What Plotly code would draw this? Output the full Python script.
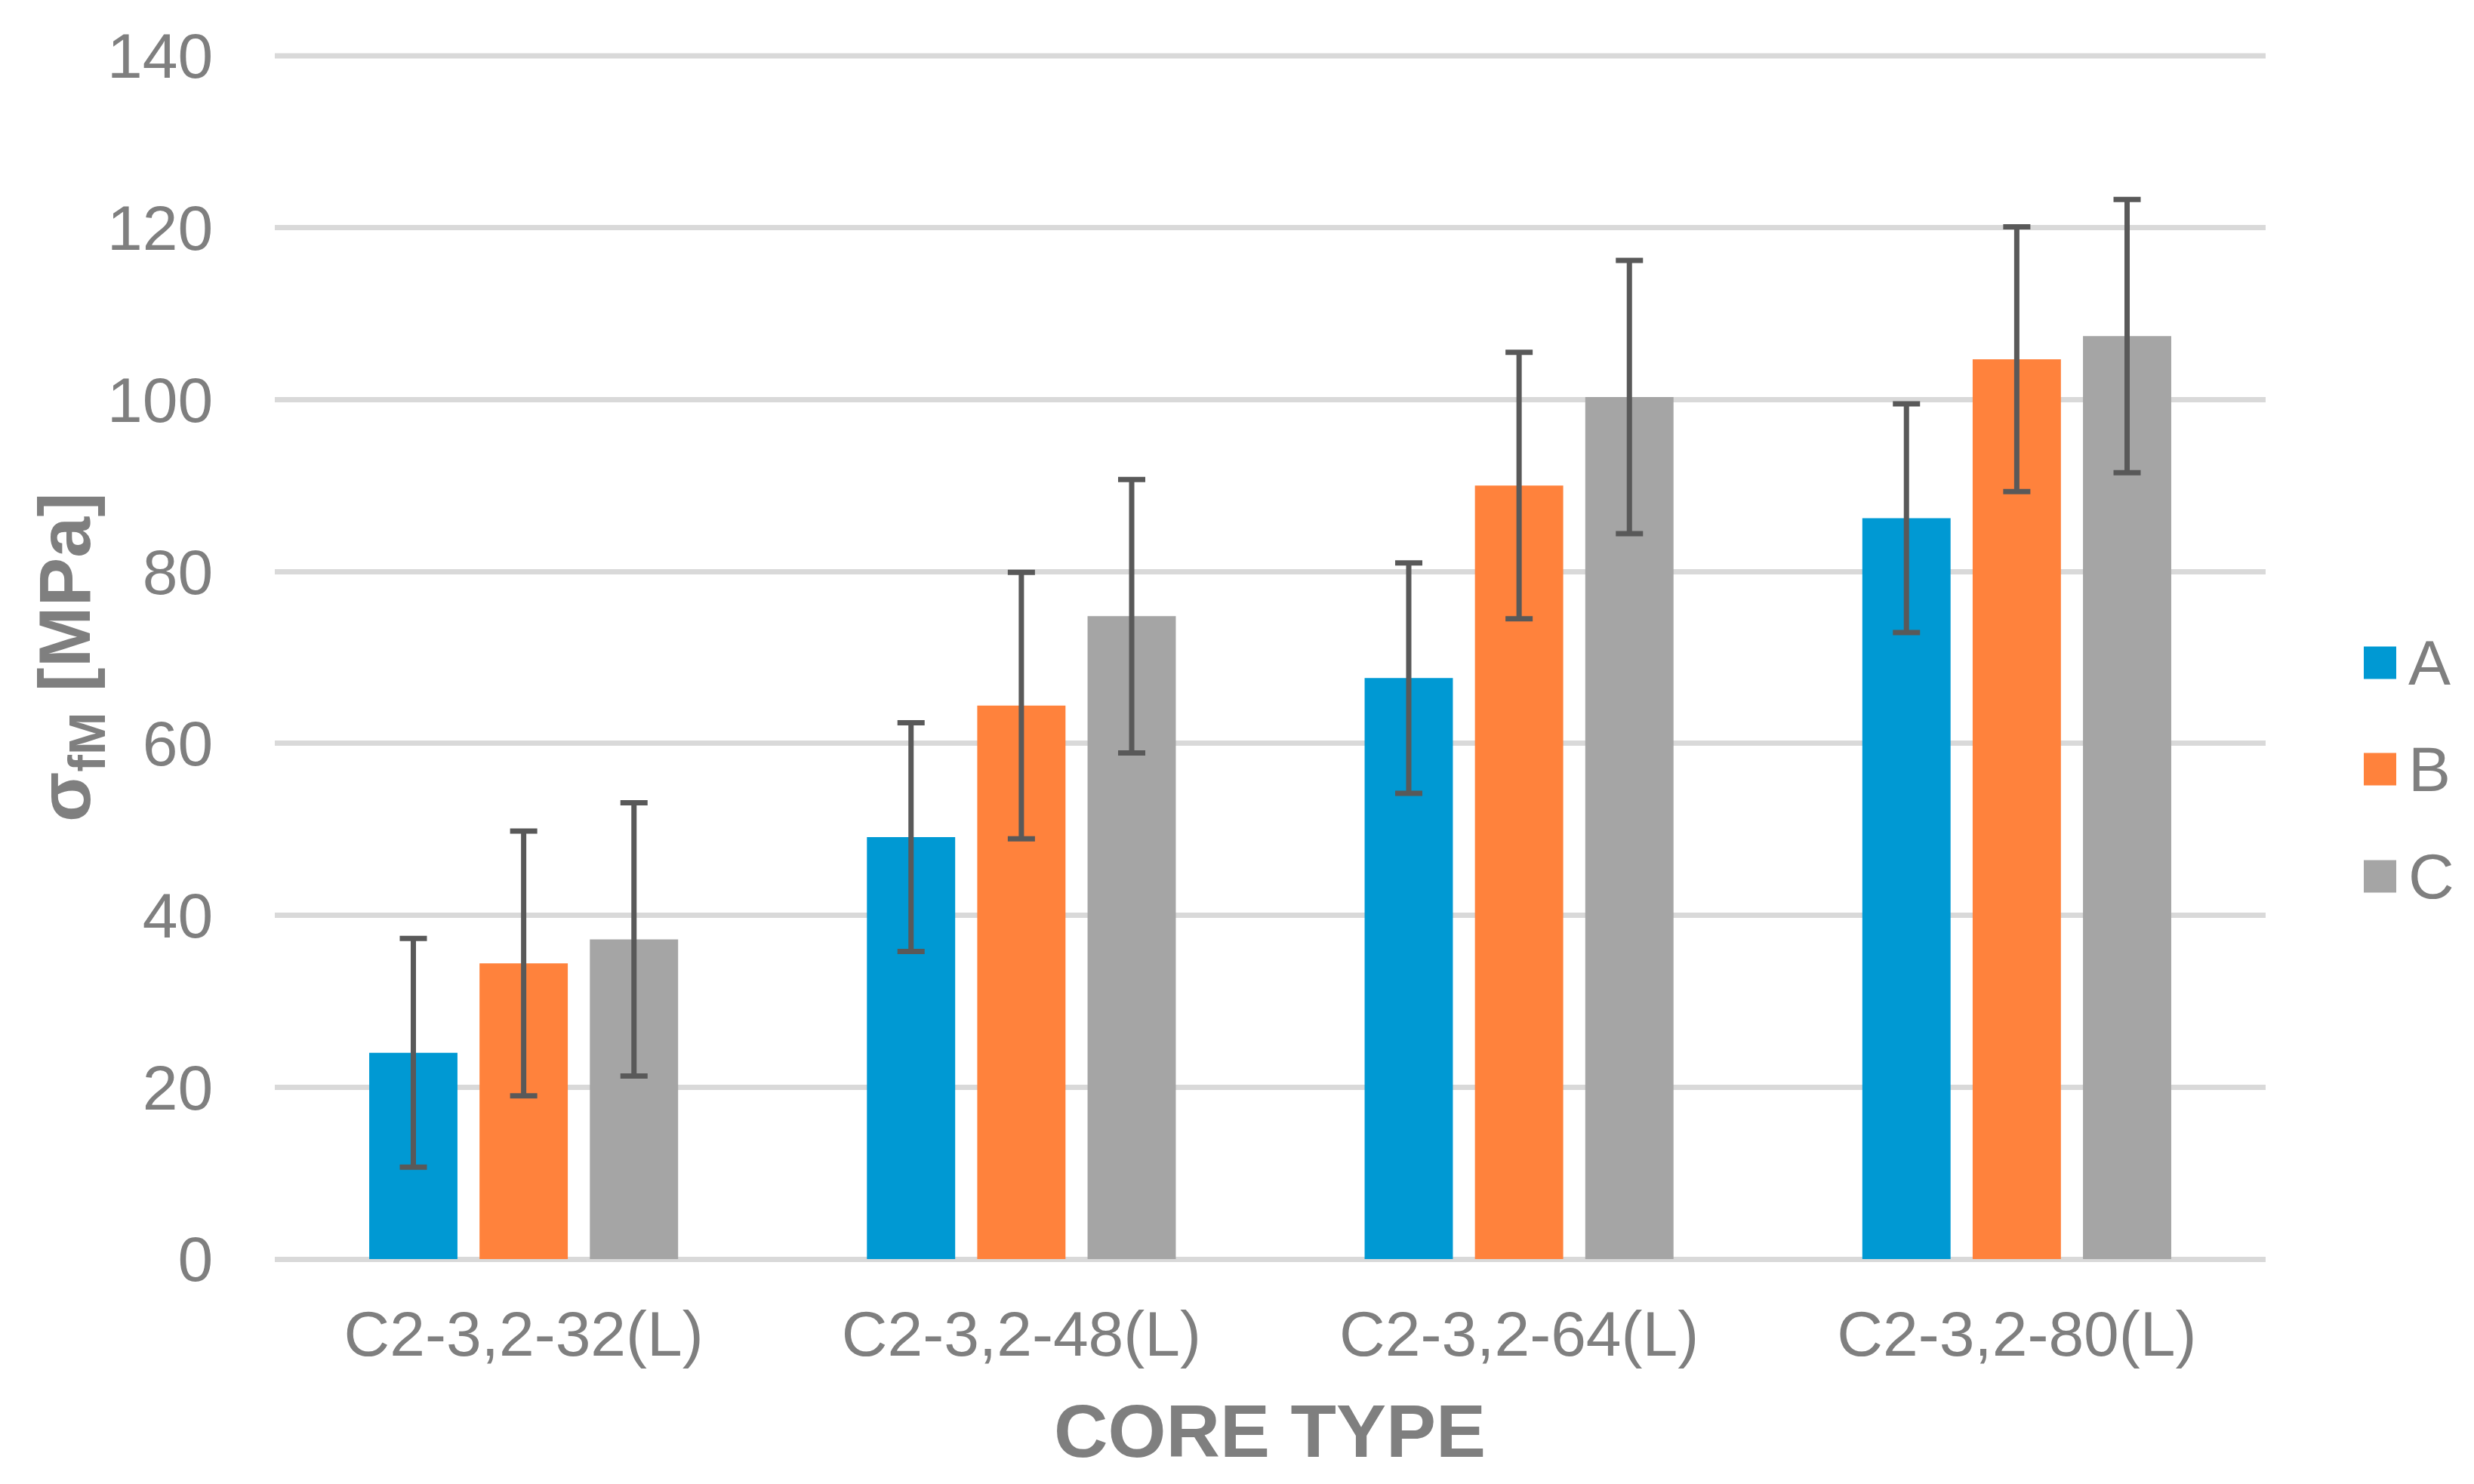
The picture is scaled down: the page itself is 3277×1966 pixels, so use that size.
import plotly.graph_objects as go

# ---- data ----
categories = ["C2-3,2-32(L)", "C2-3,2-48(L)", "C2-3,2-64(L)", "C2-3,2-80(L)"]
series_names = ["A", "B", "C"]
values_A = [24.0, 49.1, 67.6, 86.2]
values_B = [34.4, 64.4, 90.0, 104.7]
values_C = [37.2, 74.8, 100.3, 107.4]
err_A = [13.3, 13.3, 13.4, 13.3]
err_B = [15.4, 15.5, 15.5, 15.4]
err_C = [15.9, 15.9, 15.9, 15.9]
y_ticks = [0, 20, 40, 60, 80, 100, 120, 140]

# ---- styling ----
colors = ["#0099d3", "#ff823c", "#a5a5a5"]
text_color = "#7f7f7f"
err_color = "#595959"
grid_color = "#d9d9d9"
FONT = "Liberation Sans, Arial, sans-serif"

W, H = 3277, 1966
L, R, T, B = 364, 3001, 74, 1668


def px(x):
    return (x - L) / (R - L)


def py(y):
    return (B - y) / (B - T)


fig = go.Figure()
for name, vals, errs, col in zip(series_names, [values_A, values_B, values_C],
                                 [err_A, err_B, err_C], colors):
    fig.add_trace(go.Bar(
        x=categories, y=vals, name=name, marker=dict(color=col, line=dict(width=0)),
        error_y=dict(type="data", array=errs, visible=True, color=err_color,
                     thickness=7, width=18),
        showlegend=False,
    ))

shapes = []
annotations = []

# top gridline at the top edge of the plot (plotly skips the edge gridline)
shapes.append(dict(type="line", xref="paper", yref="paper", x0=0, x1=1,
                   y0=1, y1=1, layer="below",
                   line=dict(color=grid_color, width=7)))

# manual legend (large square swatches like the reference)
legend_y = [878, 1019, 1161]
for name, col, yc in zip(series_names, colors, legend_y):
    shapes.append(dict(type="rect", xref="paper", yref="paper",
                       x0=px(3131), x1=px(3174), y0=py(yc + 21.5), y1=py(yc - 21.5),
                       fillcolor=col, line=dict(width=0)))
    annotations.append(dict(text=name, xref="paper", yref="paper", x=px(3188), y=py(yc),
                            xanchor="left", yanchor="middle", showarrow=False,
                            font=dict(family=FONT, size=84, color=text_color)))

# axis titles
annotations.append(dict(text="<b>CORE TYPE</b>", xref="paper", yref="paper",
                        x=px(1682), y=py(1895), xanchor="center", yanchor="middle",
                        showarrow=False, font=dict(family=FONT, size=99, color=text_color)))
annotations.append(dict(text="<b>σ<sub>fM</sub> [MPa]</b>", xref="paper", yref="paper",
                        x=px(92), y=py(871), xanchor="center", yanchor="middle",
                        textangle=-90, showarrow=False,
                        font=dict(family=FONT, size=97, color=text_color)))

fig.update_layout(
    width=W, height=H,
    margin=dict(l=L, r=W - R, t=T, b=H - B, pad=0),
    paper_bgcolor="white", plot_bgcolor="white",
    barmode="group", bargap=0.335, bargroupgap=0.2,
    font=dict(family=FONT, size=84, color=text_color),
    shapes=shapes, annotations=annotations,
    showlegend=False,
)
fig.update_xaxes(
    showgrid=False, showline=False, zeroline=False,
    ticks="outside", ticklen=26, tickcolor="rgba(0,0,0,0)",
    tickfont=dict(family=FONT, size=84, color=text_color),
)
fig.update_yaxes(
    range=[0, 140], tickvals=y_ticks,
    showgrid=True, gridcolor=grid_color, gridwidth=7,
    zeroline=True, zerolinecolor=grid_color, zerolinewidth=7,
    showline=False,
    ticks="outside", ticklen=64, tickcolor="rgba(0,0,0,0)",
    tickfont=dict(family=FONT, size=84, color=text_color),
)

fig.write_html("out.html", config={"displayModeBar": False},
               post_script="document.body.style.margin='0';")
